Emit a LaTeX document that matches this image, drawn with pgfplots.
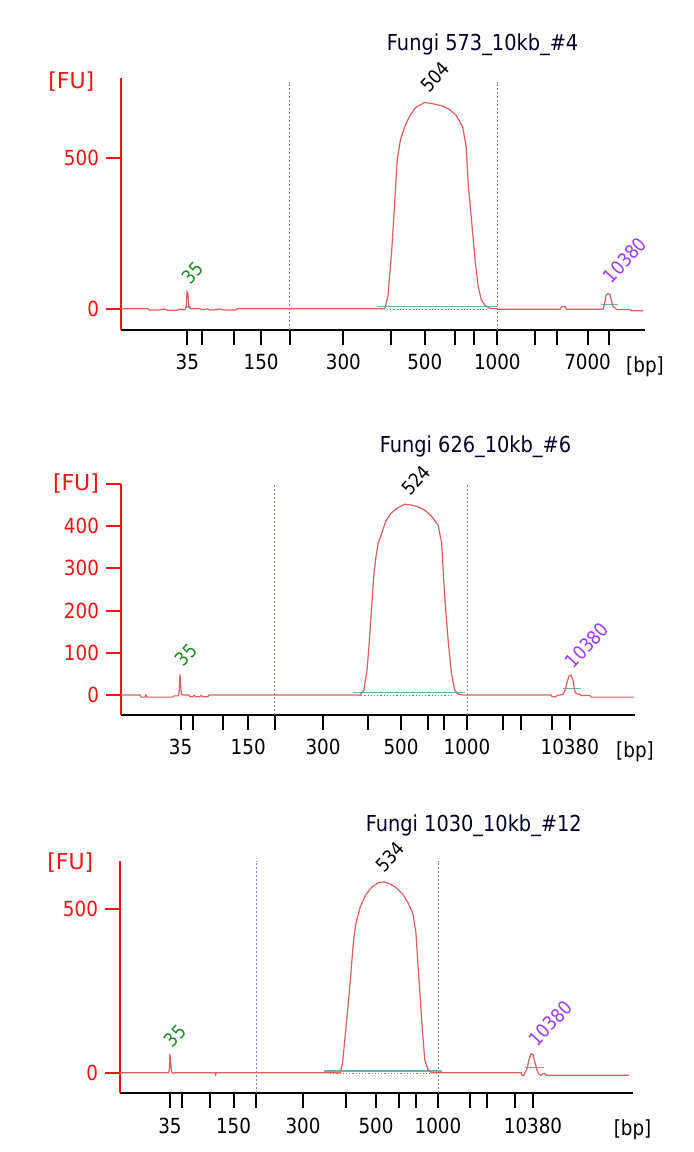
\documentclass[border=0pt]{standalone}
\usepackage{fontspec}
\setmainfont{DejaVu Sans}[FakeStretch=0.88]
\newfontfamily\fufont{DejaVu Sans}
\usepackage{pgfplots}
\pgfplotsset{compat=1.18}
\definecolor{axred}{RGB}{240,20,20}
\definecolor{trace}{RGB}{222,95,95}
\definecolor{teal2}{RGB}{95,185,175}
\definecolor{dashc}{RGB}{125,125,215}
\definecolor{lblgreen}{RGB}{30,140,40}
\definecolor{lblpurple}{RGB}{155,60,245}
\pgfplotsset{
  bapanel/.style={
    scale only axis,
    anchor=south west,
    axis x line*=bottom, axis y line*=left,
    x axis line style={black, line width=1pt, -},
    y axis line style={axred, line width=1pt, -},
    tick align=outside,
    major tick length=7.5pt,
    xtick style={black, line width=1pt},
    ytick style={axred, line width=1pt},
    minor tick num=0,
    enlargelimits=false,
    xticklabel style={font=\fontsize{10.4}{12}\selectfont, text=black, yshift=-1.2pt},
    yticklabel style={font=\fontsize{10.4}{12}\selectfont, text=axred},
    clip=false,
  },
  trc/.style={trace, line width=0.6pt},
  dsh/.style={dashc, line width=0.5pt, dash pattern=on 1pt off 1pt},
  tl/.style={teal2, line width=0.7pt},
  dotr/.style={trace, line width=0.5pt, dash pattern=on 0.6pt off 1pt},
}
\newcommand{\pklbl}[4]{\node[rotate=47, text=#4, font=\fontsize{9.5}{10}\selectfont] at (axis cs:#1,#2) {#3};}
\newcommand{\bplbl}{\node[font=\fontsize{10.4}{12}\selectfont, yshift=-18.2pt] at (rel axis cs:1,0) {[bp]};}
\begin{document}
\begin{tikzpicture}
\useasboundingbox[fill=white] (0,0) rectangle (346.5pt,576pt);

% ---------------- Panel 1 ----------------
\begin{axis}[bapanel,
  at={(60.5pt,411pt)}, width=262pt, height=126pt,
  xmin=121, xmax=645, ymin=-70.5, ymax=764,
  xtick={187.3,201.5,234.4,261.1,289.6,343.4,391,424.8,454.6,474.1,497.3,535.1,556.5,587.6,608.5},
  xticklabels={35,,,150,,300,,500,,,1000,,,7000,},
  ytick={0,500}, yticklabels={0,500},
]
\addplot[dsh] coordinates {(289.6,-70.5) (289.6,751)};
\addplot[dsh] coordinates {(497.3,-70.5) (497.3,751)};
\addplot[dotr] coordinates {(387,-3) (487,-3)};
\addplot[tl] coordinates {(377.2,8) (497.3,8)};
\addplot[tl] coordinates {(601,13) (618,13)};
\addplot[tl] coordinates {(185.5,6) (190.5,6)};
\addplot[trc] coordinates {
(121,0) (148,0) (149,-4) (160,-4) (161,-2) (166,-2) (167,-5) (178,-5) (179,-2) (183,-2) (184,-4) (185.5,-1) (186.3,10) (187,56) (188,50) (188.8,8) (189.5,2) (191,0) (200,0) (201,-3) (205,-3) (206,-1) (208,-1) (209,-4) (215,-4) (216,-2) (222,-2) (223,-4) (236,-4) (237,0)
(384.8,0) (387.9,40) (391.5,183) (393.7,294) (397.2,492) (400.4,558) (404.8,603) (409.3,636) (415.9,667) (424.8,683) (433.7,678) (442.6,671) (449.3,660) (456,641) (462.6,603) (466.2,536) (468.4,404) (471.5,294) (475.1,161) (478.2,73) (481.3,29) (484.9,12) (489.3,2) (497,0)
(498,-2) (560,-2) (561.5,6) (565,7) (566.5,-2) (603,-2) (604.5,15) (606,45) (608,50) (610,48) (611.5,25) (613,8) (615,2) (617,-3) (630,-3) (631,-7) (643,-7)
};
\pklbl{435}{768}{504}{black}
\pklbl{192.5}{118}{35}{lblgreen}
\pklbl{625}{161}{10380}{lblpurple}
\node[font=\fontsize{11}{13}\selectfont, text=black!85!blue] at (axis cs:482.6,873) {Fungi 573\_10kb\_\#4};
\node[anchor=east, text=axred, font=\fufont\fontsize{11}{13}\selectfont, xshift=-9.8pt, yshift=-2pt] at (rel axis cs:0,1) {[FU]};
\bplbl
\end{axis}

% ---------------- Panel 2 ----------------
\begin{axis}[bapanel,
  at={(60.5pt,218.5pt)}, width=257pt, height=115.5pt,
  xmin=121, xmax=635, ymin=-47.3, ymax=500,
  xtick={180.6,192.6,223.3,248.2,274.5,323,368,401,428,444.4,467,502.7,521.4,551.6,569.8},
  xticklabels={35,,,150,,300,,500,,,1000,,,,10380},
  ytick={0,100,200,300,400,500}, yticklabels={0,100,200,300,400,{\fufont\fontsize{11}{13}\selectfont[FU]}},
]
\addplot[dsh] coordinates {(274.5,-47.3) (274.5,500)};
\addplot[dsh] coordinates {(467,-47.3) (467,500)};
\addplot[dotr] coordinates {(358,-2) (453,-2)};
\addplot[tl] coordinates {(353,6) (465,6)};
\addplot[tl] coordinates {(562.7,16) (580.5,16)};
\addplot[trc] coordinates {
(121,0) (140,0) (141,-5) (145,-5) (146,0) (147,-5) (173,-5) (174,-2) (178.5,-2) (179.3,10) (180,49) (180.8,20) (181.5,2) (183,0) (189,0) (190,-4) (193,-4) (194,-1) (196,-4) (200,-4) (201,-1) (203,-4) (208,-4) (209,0)
(360.3,0) (363.9,12) (367,59) (369.2,122) (371.4,201) (373.7,280) (375.9,327) (378.1,359) (381.7,383) (386.1,414) (391.5,432) (398.1,444) (404.8,452) (411.5,450) (418.1,446) (424.8,438) (431.5,424) (438.2,402) (441.7,359) (443.5,280) (445.7,201) (448.4,122) (451.5,51) (454.6,12) (458.2,2) (462.6,0)
(551,0) (552,-4) (556,-4) (557,-1) (560,0) (563,2) (565,10) (567,30) (569,45) (571,47) (573,35) (574.5,12) (576,4) (578,2) (580,2) (581,-1) (590,-1) (591,-5) (634,-5)
};
\pklbl{416}{509}{524}{black}
\pklbl{186}{95}{35}{lblgreen}
\pklbl{587}{118}{10380}{lblpurple}
\node[font=\fontsize{11}{13}\selectfont, text=black!85!blue] at (axis cs:475.5,589) {Fungi 626\_10kb\_\#6};
\bplbl
\end{axis}

% ---------------- Panel 3 ----------------
\begin{axis}[bapanel,
  at={(60pt,29.35pt)}, width=256.3pt, height=116.3pt,
  xmin=120, xmax=632.6, ymin=-63.1, ymax=647.7,
  xtick={170,181.5,210,233.5,256,303,345.6,376,399,416,438,470,487,514.7,533},
  xticklabels={35,,,150,,300,,500,,,1000,,,,10380},
  ytick={0,500}, yticklabels={0,500},
]
\addplot[dsh] coordinates {(256,-63.1) (256,647.7)};
\addplot[dsh] coordinates {(438,-63.1) (438,647.7)};
\addplot[dotr] coordinates {(330,-2) (430,-2)};
\addplot[tl] coordinates {(323.8,5) (441.7,5)};
\addplot[tl] coordinates {(525,15) (543.6,15)};
\addplot[trc] coordinates {
(120,0) (168.5,0) (169.3,8) (170,57) (170.8,25) (171.5,3) (173,-2) (175,0) (215,0) (215.6,-6) (216.3,0)
(340.3,0) (342.5,28.5) (344.8,100) (347,171) (349.2,242) (351.4,324) (353.6,405) (355.9,456) (360.3,507) (365.7,543) (371.4,566) (378.1,580) (383.5,583) (389.2,578) (395.9,566) (402.6,546) (408.4,517) (412.8,487) (415.9,428) (418.1,324) (420.4,222) (422.6,120) (424.8,39) (427.9,10) (431.5,0)
(521.4,0) (522,-8) (524,-8) (525,0) (527,12) (529,40) (531,58) (533,55) (535,30) (537,8) (539,-5) (541,-8) (543,-3) (545,-3) (546,-8) (629.4,-8)
};
\pklbl{390}{660}{534}{black}
\pklbl{175}{113}{35}{lblgreen}
\pklbl{550.5}{151}{10380}{lblpurple}
\node[font=\fontsize{11}{13}\selectfont, text=black!85!blue] at (axis cs:473.8,755) {Fungi 1030\_10kb\_\#12};
\node[anchor=east, text=axred, font=\fufont\fontsize{11}{13}\selectfont, xshift=-9.8pt, yshift=-1pt] at (rel axis cs:0,1) {[FU]};
\bplbl
\end{axis}
\end{tikzpicture}
\end{document}
